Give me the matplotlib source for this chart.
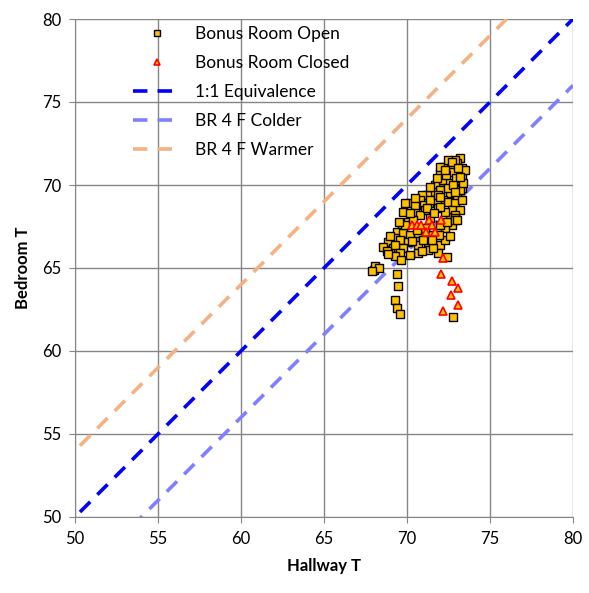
import numpy as np
import matplotlib
matplotlib.use("Agg")
import matplotlib.pyplot as plt

plt.rcParams['font.family'] = ['Lato', 'DejaVu Sans']

# Bonus Room Open (hallway T, bedroom T)
open_x = [73.19, 73.01, 72.59, 72.17, 72.77, 73.31, 71.99, 73.31, 72.17, 73.07,
          71.69, 72.59, 71.99, 73.31, 71.51, 71.20, 70.90, 72.59, 73.01, 70.78,
          71.69, 72.17, 70.18, 71.51, 72.47, 72.89, 71.00, 71.81, 72.71, 69.76,
          70.48, 71.08, 71.87, 72.59, 72.71, 70.06, 69.70, 69.40, 69.76, 70.18,
          69.28, 68.86, 69.58, 70.06, 70.66, 71.27, 71.99, 69.16, 69.76, 70.66,
          71.27, 71.87, 68.55, 70.18, 68.98, 71.81, 71.27, 70.66, 72.29,
          72.35, 72.95, 72.47, 71.39, 71.87, 70.48, 70.78, 71.39, 71.99, 70.36,
          71.08, 72.29, 71.57, 70.96, 69.88, 69.28, 73.19, 73.31, 73.19, 72.89,
          72.29, 73.37, 73.49, 72.89, 72.47, 72.89,
          72.00, 72.70, 73.10, 72.30, 71.80, 72.80, 73.20, 71.40, 72.00, 72.90,
          70.50, 71.20, 72.00, 69.90, 70.20, 71.60, 72.40, 69.50, 70.60, 71.90,
          72.90, 69.00, 70.30, 70.90, 69.60, 71.50, 68.80, 72.60, 73.00,
          69.28, 69.64, 68.86, 72.40,
          68.00, 68.10, 68.30, 67.90,
          69.40, 69.46, 69.28, 69.40, 69.58, 72.77]
open_y = [71.63, 71.33, 71.20, 71.08, 70.78, 71.02, 70.72, 70.48, 70.30, 70.18,
          70.00, 70.12, 69.70, 69.82, 69.58, 69.40, 69.40, 69.52, 69.28, 69.10,
          69.10, 69.10, 68.92, 68.92, 68.98, 68.92, 68.80, 68.98, 68.49, 68.37,
          68.37, 68.49, 68.61, 68.07, 67.59, 67.77, 67.47, 67.17, 67.11, 66.99,
          66.81, 66.57, 66.69, 66.57, 66.39, 66.57, 66.39, 66.20, 66.20, 65.90,
          66.08, 65.90, 66.27, 65.78, 65.90, 66.99, 66.99, 67.11, 67.41,
          70.60, 70.42, 69.82, 69.10, 69.40, 68.80, 68.19, 68.01, 67.59, 67.89,
          67.41, 66.69, 66.20, 66.69, 67.59, 66.39, 69.70, 69.10, 68.49, 68.19,
          68.37, 70.12, 70.90, 71.51, 71.51, 68.01,
          71.10, 71.40, 71.00, 70.90, 70.40, 70.00, 70.50, 69.90, 69.30, 69.60,
          69.20, 68.60, 68.70, 68.90, 68.30, 68.30, 67.80, 67.80, 67.30, 67.00,
          67.90, 66.90, 66.60, 66.00, 65.90, 66.70, 66.00, 66.90, 67.90,
          65.72, 65.48, 65.84, 65.66,
          64.90, 65.10, 65.00, 64.80,
          64.64, 63.92, 63.07, 62.59, 62.23, 62.05]

# Bonus Room Closed
closed_x = [70.30, 70.60, 70.84, 71.33, 71.51, 71.14, 71.69, 72.05,
            72.17, 72.05, 72.70, 73.07, 72.65, 73.07, 72.17]
closed_y = [67.59, 67.59, 67.59, 67.89, 67.59, 67.17, 67.17, 67.89,
            65.60, 64.64, 64.20, 63.80, 63.40, 62.77, 62.41]

# reference lines
line_x = np.array([50.3, 80.0])
offset = 4

fig = plt.figure(figsize=(5.89, 5.93), dpi=100)
ax = fig.add_axes([75/589, 1 - 517/593, 498/589, 498/593])

ax.plot(open_x, open_y, 's', ms=5.2, mfc='#FFC000', mec='black', mew=1.0,
        label='Bonus Room Open', zorder=4)
ax.plot(closed_x, closed_y, '^', ms=6, mfc='#FFC000', mec='#FF0000', mew=1.2,
        label='Bonus Room Closed', zorder=5)
ax.plot(line_x, line_x, color='#0000FF', lw=2.6, dashes=(4, 2.8),
        label='1:1 Equivalence', zorder=3)
ax.plot(line_x, line_x - offset, color='#7F7FFF', lw=2.6, dashes=(4, 2.8),
        label='BR 4 F Colder', zorder=3)
ax.plot(line_x, line_x + offset, color='#F4B183', lw=2.6, dashes=(4, 2.8),
        label='BR 4 F Warmer', zorder=3)

ax.set_xlim(50, 80)
ax.set_ylim(50, 80)
ax.set_xticks(range(50, 81, 5))
ax.set_yticks(range(50, 81, 5))
ax.grid(True, color='#868686', lw=1.0)
ax.set_axisbelow(True)
for s in ['top', 'right']:
    ax.spines[s].set_visible(False)
for s in ['left', 'bottom']:
    ax.spines[s].set_color('#868686')
ax.tick_params(direction='out', length=4, color='#868686', labelsize=12, pad=6)

ax.set_xlabel('Hallway T', fontsize=12, fontweight='bold', labelpad=8)
ax.set_ylabel('Bedroom T', fontsize=12, fontweight='bold', labelpad=8)

ax.legend(loc='upper left', bbox_to_anchor=(0.085, 1.018), frameon=False,
          fontsize=12.5, handlelength=2.8, labelspacing=0.75, handletextpad=0.8,
          markerscale=0.8)

fig.savefig('out.png', dpi=100)
